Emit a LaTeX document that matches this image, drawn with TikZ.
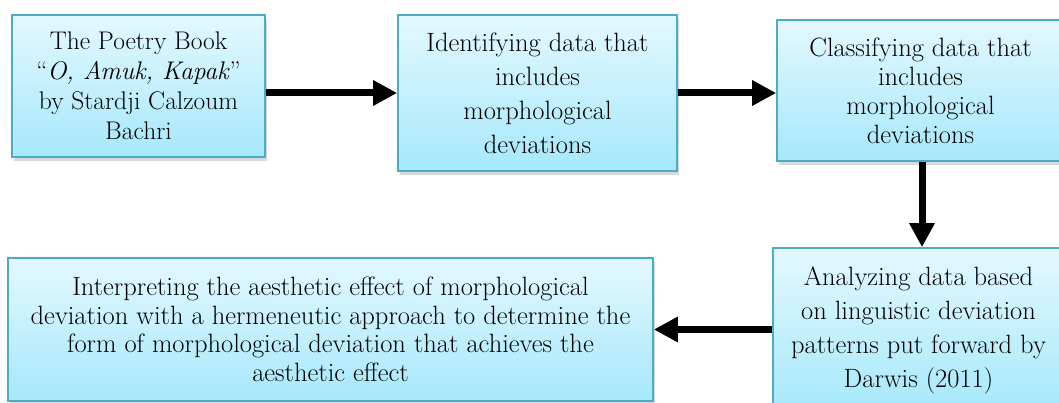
\documentclass[tikz,border=0pt]{standalone}
\usetikzlibrary{arrows.meta,shadows,calc}
\definecolor{boxborder}{HTML}{4BACC6}
\definecolor{boxtop}{HTML}{E3F8FE}
\definecolor{boxbot}{HTML}{A6E8FB}
\tikzset{
  x=1pt,y=-1pt,
  flowbox/.style={draw=boxborder, line width=1.6pt, top color=boxtop, bottom color=boxbot,
    shading angle=0, align=center, inner sep=0pt,
    drop shadow={shadow xshift=1.5pt, shadow yshift=-4pt, opacity=0.25, fill=black!60},
    font=\fontsize{26.5}{30}\selectfont},
  flowarrow/.style={line width=7pt, -{Triangle[length=24pt,width=24pt]}}
}
\begin{document}
\begin{tikzpicture}
\useasboundingbox (0,0) rectangle (1059,403);
\node[flowbox, minimum width=253pt, minimum height=142pt, font=\fontsize{25.5}{30}\selectfont] (b1) at (138.5,86)
  {The Poetry Book\\``\textit{O, Amuk, Kapak}''\\by Stardji Calzoum\\Bachri};
\node[flowbox, minimum width=279pt, minimum height=156pt, font=\fontsize{26.5}{34}\selectfont] (b2) at (537.5,93)
  {Identifying data that\\includes\\morphological\\deviations};
\node[flowbox, minimum width=287pt, minimum height=141pt, font=\fontsize{26.5}{29}\selectfont] (b3) at (920.5,90.5)
  {Classifying data that\\includes\\morphological\\deviations};
\node[flowbox, minimum width=291pt, minimum height=164pt, font=\fontsize{26.5}{34}\selectfont] (b4) at (918.5,330)
  {Analyzing data based\\on linguistic deviation\\patterns put forward by\\Darwis (2011)};
\node[flowbox, minimum width=645pt, minimum height=143pt, font=\fontsize{26.5}{28.5}\selectfont] (b5) at (330.5,329.5)
  {Interpreting the aesthetic effect of morphological\\deviation with a hermeneutic approach to determine the\\form of morphological deviation that achieves the\\aesthetic effect};
\draw[flowarrow] (b1.east |- b2) -- (b2.west);
\draw[flowarrow] (b2.east) -- (b3.west |- b2);
\draw[flowarrow] ([xshift=1.5pt]b3.south) -- ([xshift=1.5pt]b3.south |- b4.north);
\draw[flowarrow] (b4.west |- b5) -- (b5.east);
\end{tikzpicture}
\end{document}
